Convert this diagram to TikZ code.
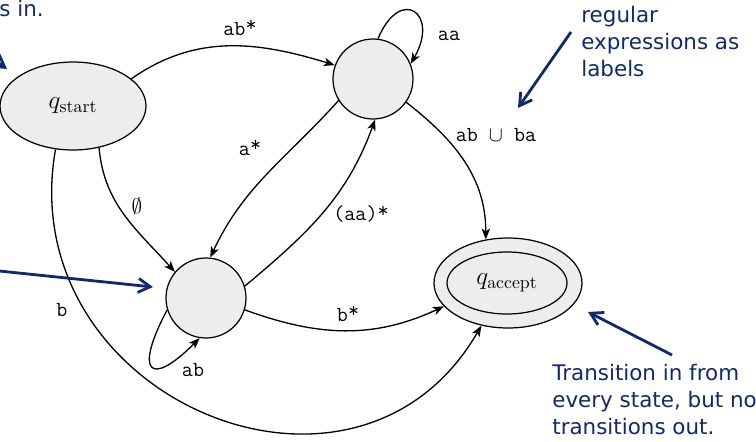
\documentclass[tikz,border=0pt]{standalone}
\usepackage{fontspec}
\newfontfamily\notefont{DejaVu Sans}
\usetikzlibrary{arrows.meta, shapes.geometric}
\definecolor{notenavy}{RGB}{14,42,108}
\newcommand{\rstar}{\raisebox{0.35ex}{*}}

\begin{document}
\begin{tikzpicture}[
    x=1cm, y=1cm,
    >=Stealth,
    every node/.style={font=\rmfamily, text=black},
    state/.style={
      circle, draw=black, line width=0.7pt,
      fill=black!7, minimum size=1.6cm, inner sep=0pt
    },
    startstate/.style={
      ellipse, draw=black, line width=0.7pt,
      fill=black!7, minimum width=2.92cm, minimum height=1.76cm,
      inner sep=0pt, font=\fontsize{14.5}{17}\selectfont
    },
    acceptouter/.style={
      ellipse, draw=black, line width=0.7pt,
      fill=black!7, minimum width=2.96cm, minimum height=1.80cm,
      inner sep=0pt
    },
    acceptinner/.style={
      ellipse, draw=black, line width=0.7pt,
      minimum width=2.40cm, minimum height=1.24cm,
      inner sep=0pt, font=\fontsize{14.5}{17}\selectfont
    },
    edge/.style={-{Stealth[length=2.2mm, width=1.7mm, inset=0.6mm]}, line width=0.75pt},
    lab/.style={font=\ttfamily\fontsize{12.2}{14}\selectfont, inner sep=1pt},
    note/.style={font=\notefont\fontsize{12.2}{15.4}\selectfont, text=notenavy, align=left, inner sep=0pt},
    notearr/.style={-{Straight Barb[length=2.4mm, width=2.8mm]}, draw=notenavy, line width=1.6pt}
  ]

    \useasboundingbox (0,0) rectangle (15.12,8.82);
    \clip (0,0) rectangle (15.12,8.82);

    % states
    \node[startstate] (qs) at (1.46,6.70) {$q_{\mathrm{start}}$};
    \node[state] (u) at (7.46,7.24) {};
    \node[state] (l) at (4.12,2.86) {};
    \node[acceptouter] (acc) at (10.16,3.16) {};
    \node[acceptinner] (accin) at (10.14,3.16) {$q_{\mathrm{accept}}$};

    % transitions
    \draw[edge] (qs.25) to[out=35, in=163] (u.160);
    \draw[edge] (u.83) to[out=67, in=60, looseness=3.6] (u.22);
    \draw[edge] (u.212) to[out=-132, in=65] (l.84);
    \draw[edge] (l.17) to[out=40, in=-110] (u.-87);
    \draw[edge] (u.-35) to[out=-38, in=90] (acc.117);
    \draw[edge] (qs.-58) to[out=-85, in=132] (l.140);
    \draw[edge] (l.197) to[out=-118, in=-135, looseness=4.2] (l.-99);
    \draw[edge] (l.-17) to[out=-20, in=205] (acc.200);
    \draw[edge] (qs.-112) to[out=-100, in=-120, looseness=1.4] (acc.-122);

    % labels
    \node[lab] (abl) at (4.80,8.26) {ab\rstar};
    \node[lab] (aal) at (8.98,8.10) {aa};
    \node[lab] (astl) at (5.00,5.86) {a\rstar};
    \node[lab] (aastl) at (7.22,4.54) {(aa)\rstar};
    \node[lab] (abbal) at (9.92,6.12) {ab $\cup$ ba};
    \node[lab] (empl) at (2.74,4.70) {$\emptyset$};
    \node[lab] (bl) at (1.24,2.62) {b};
    \node[lab] (abloop) at (3.86,1.42) {ab};
    \node[lab] (bstl) at (6.96,2.54) {b\rstar};

    % notes
    \node[note, anchor=base west] (cutnote) at (-0.02,8.50) {s in.};
    \node[note, anchor=north west] (renote) at (11.62,8.70)
      {regular\\expressions as\\labels};
    \node[note, anchor=north west] (trnote) at (11.04,1.54)
      {Transition in from\\every state, but no\\transitions out.};

    \coordinate (tailA) at (-0.80,8.12);
    \coordinate (tipA) at (0.14,7.44);
    \coordinate (tailB) at (-0.40,3.44);
    \coordinate (tipB) at (3.06,3.08);
    \coordinate (tailC) at (11.42,8.18);
    \coordinate (tipC) at (10.36,6.66);
    \coordinate (tailD) at (13.44,1.72);
    \coordinate (tipD) at (11.76,2.58);

    \draw[notearr] (tailA) -- (tipA);
    \draw[notearr] (tailB) -- (tipB);
    \draw[notearr] (tailC) -- (tipC);
    \draw[notearr] (tailD) -- (tipD);

  \end{tikzpicture}
\end{document}
